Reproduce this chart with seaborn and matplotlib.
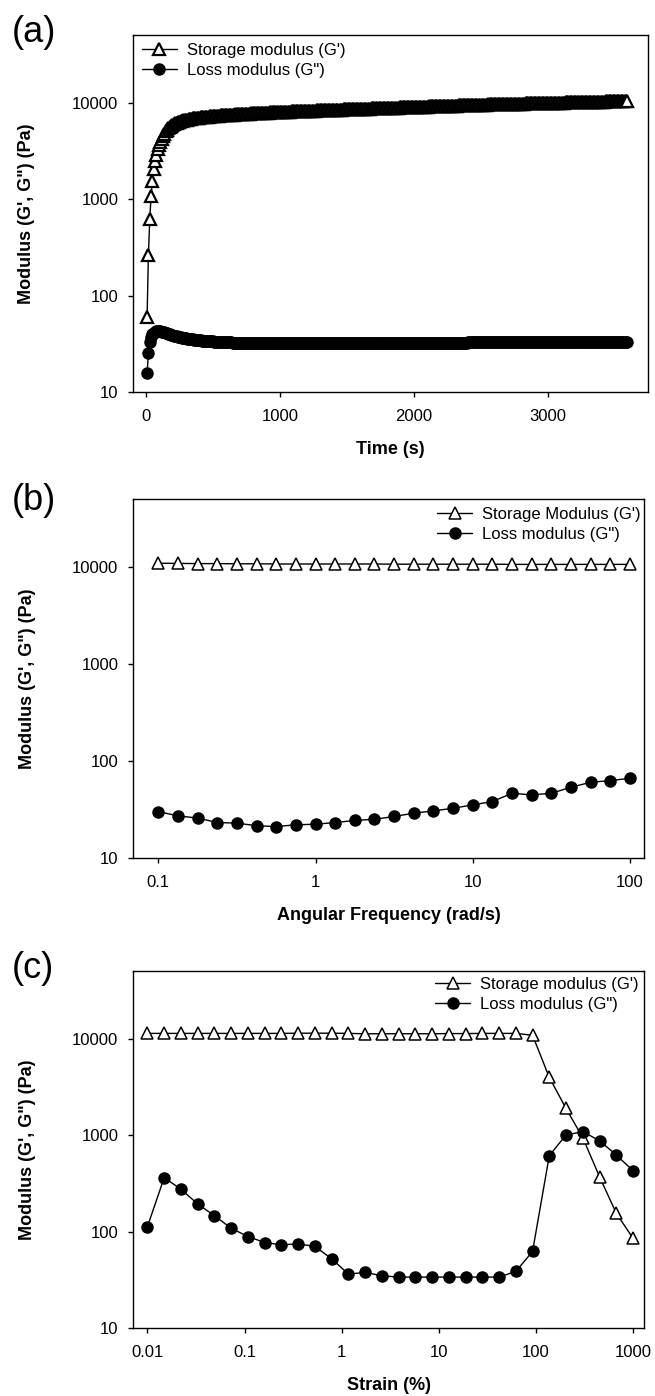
import matplotlib
matplotlib.use("Agg")
import matplotlib.pyplot as plt
import matplotlib.ticker as mticker
import seaborn as sns

sns.set_style("ticks")
plt.rcParams["font.family"] = ["Liberation Sans", "DejaVu Sans"]
plt.rcParams["text.color"] = "black"
plt.rcParams["axes.labelcolor"] = "black"
plt.rcParams["axes.linewidth"] = 1.0

# (a) time sweep, one reading every 10 s
time_s = [
    5, 15, 25, 35, 45, 55, 65, 75, 85, 95,
    105, 115, 125, 135, 145, 155, 165, 175, 185, 195,
    205, 215, 225, 235, 245, 255, 265, 275, 285, 295,
    305, 315, 325, 335, 345, 355, 365, 375, 385, 395,
    405, 415, 425, 435, 445, 455, 465, 475, 485, 495,
    505, 515, 525, 535, 545, 555, 565, 575, 585, 595,
    605, 615, 625, 635, 645, 655, 665, 675, 685, 695,
    705, 715, 725, 735, 745, 755, 765, 775, 785, 795,
    805, 815, 825, 835, 845, 855, 865, 875, 885, 895,
    905, 915, 925, 935, 945, 955, 965, 975, 985, 995,
    1005, 1015, 1025, 1035, 1045, 1055, 1065, 1075, 1085, 1095,
    1105, 1115, 1125, 1135, 1145, 1155, 1165, 1175, 1185, 1195,
    1205, 1215, 1225, 1235, 1245, 1255, 1265, 1275, 1285, 1295,
    1305, 1315, 1325, 1335, 1345, 1355, 1365, 1375, 1385, 1395,
    1405, 1415, 1425, 1435, 1445, 1455, 1465, 1475, 1485, 1495,
    1505, 1515, 1525, 1535, 1545, 1555, 1565, 1575, 1585, 1595,
    1605, 1615, 1625, 1635, 1645, 1655, 1665, 1675, 1685, 1695,
    1705, 1715, 1725, 1735, 1745, 1755, 1765, 1775, 1785, 1795,
    1805, 1815, 1825, 1835, 1845, 1855, 1865, 1875, 1885, 1895,
    1905, 1915, 1925, 1935, 1945, 1955, 1965, 1975, 1985, 1995,
    2005, 2015, 2025, 2035, 2045, 2055, 2065, 2075, 2085, 2095,
    2105, 2115, 2125, 2135, 2145, 2155, 2165, 2175, 2185, 2195,
    2205, 2215, 2225, 2235, 2245, 2255, 2265, 2275, 2285, 2295,
    2305, 2315, 2325, 2335, 2345, 2355, 2365, 2375, 2385, 2395,
    2405, 2415, 2425, 2435, 2445, 2455, 2465, 2475, 2485, 2495,
    2505, 2515, 2525, 2535, 2545, 2555, 2565, 2575, 2585, 2595,
    2605, 2615, 2625, 2635, 2645, 2655, 2665, 2675, 2685, 2695,
    2705, 2715, 2725, 2735, 2745, 2755, 2765, 2775, 2785, 2795,
    2805, 2815, 2825, 2835, 2845, 2855, 2865, 2875, 2885, 2895,
    2905, 2915, 2925, 2935, 2945, 2955, 2965, 2975, 2985, 2995,
    3005, 3015, 3025, 3035, 3045, 3055, 3065, 3075, 3085, 3095,
    3105, 3115, 3125, 3135, 3145, 3155, 3165, 3175, 3185, 3195,
    3205, 3215, 3225, 3235, 3245, 3255, 3265, 3275, 3285, 3295,
    3305, 3315, 3325, 3335, 3345, 3355, 3365, 3375, 3385, 3395,
    3405, 3415, 3425, 3435, 3445, 3455, 3465, 3475, 3485, 3495,
    3505, 3515, 3525, 3535, 3545, 3555, 3565, 3575, 3585, 3595,
]
storage_time = [
    60, 265, 620, 1080, 1550, 2050, 2500, 2900, 3300, 3650,
    3950, 4250, 4550, 4800, 5050, 5250, 5450, 5650, 5800, 5950,
    6050, 6150, 6250, 6320, 6390, 6450, 6510, 6570, 6620, 6670,
    6715, 6760, 6800, 6840, 6880, 6915, 6950, 6980, 7010, 7035,
    7060, 7085, 7110, 7140, 7165, 7190, 7210, 7230, 7250, 7270,
    7290, 7310, 7330, 7350, 7370, 7390, 7410, 7430, 7450, 7465,
    7480, 7500, 7515, 7530, 7550, 7565, 7580, 7595, 7610, 7625,
    7640, 7655, 7670, 7685, 7700, 7715, 7730, 7745, 7760, 7775,
    7790, 7800, 7815, 7830, 7840, 7855, 7870, 7880, 7895, 7910,
    7920, 7935, 7945, 7960, 7970, 7985, 7995, 8010, 8020, 8035,
    8045, 8055, 8070, 8080, 8090, 8105, 8115, 8125, 8140, 8150,
    8160, 8170, 8180, 8190, 8200, 8210, 8220, 8230, 8240, 8250,
    8260, 8270, 8280, 8290, 8300, 8310, 8320, 8330, 8340, 8350,
    8360, 8370, 8380, 8390, 8400, 8410, 8420, 8430, 8440, 8450,
    8460, 8470, 8480, 8490, 8500, 8510, 8520, 8530, 8540, 8550,
    8560, 8570, 8580, 8590, 8600, 8610, 8620, 8630, 8640, 8650,
    8660, 8670, 8680, 8690, 8700, 8710, 8720, 8730, 8740, 8750,
    8760, 8770, 8780, 8790, 8800, 8810, 8820, 8830, 8840, 8850,
    8860, 8870, 8880, 8890, 8900, 8910, 8920, 8930, 8940, 8950,
    8960, 8970, 8980, 8990, 9000, 9010, 9020, 9030, 9040, 9050,
    9060, 9070, 9080, 9090, 9100, 9110, 9120, 9130, 9140, 9150,
    9160, 9170, 9180, 9190, 9200, 9210, 9220, 9230, 9240, 9250,
    9260, 9270, 9280, 9290, 9300, 9310, 9320, 9330, 9340, 9350,
    9360, 9370, 9380, 9390, 9400, 9410, 9420, 9430, 9440, 9450,
    9460, 9470, 9480, 9490, 9500, 9510, 9520, 9530, 9540, 9550,
    9560, 9570, 9580, 9590, 9600, 9610, 9620, 9630, 9640, 9650,
    9660, 9670, 9675, 9685, 9690, 9700, 9710, 9715, 9725, 9730,
    9740, 9750, 9755, 9765, 9770, 9780, 9790, 9795, 9805, 9810,
    9820, 9830, 9835, 9845, 9850, 9860, 9870, 9875, 9885, 9890,
    9900, 9910, 9915, 9925, 9930, 9940, 9950, 9955, 9965, 9970,
    9980, 9990, 9995, 10005, 10010, 10020, 10030, 10035, 10045, 10050,
    10060, 10070, 10075, 10085, 10090, 10100, 10110, 10115, 10125, 10130,
    10140, 10150, 10155, 10165, 10170, 10180, 10190, 10195, 10205, 10210,
    10220, 10230, 10235, 10245, 10250, 10260, 10270, 10275, 10285, 10290,
    10300, 10310, 10315, 10325, 10330, 10340, 10350, 10355, 10365, 10370,
    10380, 10390, 10395, 10405, 10410, 10420, 10430, 10435, 10445, 10450,
]
loss_time = [
    15.6, 25.5, 33.0, 37.0, 39.5, 41.0, 42.0, 42.7, 43.0, 43.0,
    42.8, 42.4, 42.0, 41.5, 41.0, 40.5, 40.0, 39.5, 39.0, 38.6,
    38.3, 38.0, 37.7, 37.4, 37.1, 36.9, 36.6, 36.4, 36.2, 36.0,
    35.8, 35.6, 35.4, 35.2, 35.1, 34.9, 34.8, 34.6, 34.5, 34.4,
    34.3, 34.2, 34.1, 34.0, 33.9, 33.8, 33.7, 33.7, 33.6, 33.5,
    33.4, 33.4, 33.3, 33.2, 33.2, 33.1, 33.1, 33.0, 32.9, 32.9,
    32.8, 32.8, 32.7, 32.7, 32.6, 32.6, 32.6, 32.5, 32.5, 32.5,
    32.4, 32.4, 32.4, 32.3, 32.3, 32.3, 32.2, 32.2, 32.2, 32.2,
    32.1, 32.1, 32.1, 32.1, 32.1, 32.1, 32.0, 32.0, 32.0, 32.0,
    32.0, 32.0, 32.0, 32.0, 32.0, 31.9, 31.9, 31.9, 31.9, 31.9,
    31.9, 31.9, 31.9, 31.9, 31.9, 31.9, 31.9, 31.9, 31.9, 31.9,
    31.9, 31.9, 31.9, 31.9, 31.9, 31.9, 31.9, 31.9, 31.9, 31.9,
    31.9, 31.9, 31.9, 31.9, 31.9, 31.9, 31.9, 31.9, 31.9, 31.9,
    31.9, 31.9, 31.9, 31.9, 31.9, 31.9, 31.9, 31.9, 31.9, 31.9,
    31.9, 31.9, 31.9, 31.9, 31.9, 31.9, 31.9, 31.9, 31.9, 31.9,
    32.0, 32.0, 32.0, 32.0, 32.0, 32.0, 32.0, 32.0, 32.0, 32.0,
    32.0, 32.0, 32.0, 32.0, 32.0, 32.0, 32.0, 32.0, 32.0, 32.0,
    32.1, 32.1, 32.1, 32.1, 32.1, 32.1, 32.1, 32.1, 32.1, 32.1,
    32.1, 32.1, 32.1, 32.1, 32.1, 32.1, 32.1, 32.1, 32.1, 32.1,
    32.2, 32.2, 32.2, 32.2, 32.2, 32.2, 32.2, 32.2, 32.2, 32.2,
    32.3, 32.3, 32.3, 32.3, 32.3, 32.3, 32.3, 32.3, 32.3, 32.3,
    32.4, 32.4, 32.4, 32.4, 32.4, 32.4, 32.4, 32.4, 32.4, 32.4,
    32.5, 32.5, 32.5, 32.5, 32.5, 32.5, 32.5, 32.5, 32.5, 32.5,
    32.6, 32.6, 32.6, 32.6, 32.6, 32.6, 32.6, 32.6, 32.6, 32.6,
    32.7, 32.7, 32.7, 32.7, 32.7, 32.7, 32.7, 32.7, 32.7, 32.7,
    32.8, 32.8, 32.8, 32.8, 32.8, 32.8, 32.8, 32.8, 32.8, 32.8,
    32.9, 32.9, 32.9, 32.9, 32.9, 32.9, 32.9, 32.9, 32.9, 32.9,
    33.0, 33.0, 33.0, 33.0, 33.0, 33.0, 33.0, 33.0, 33.0, 33.0,
    33.0, 33.0, 33.0, 33.0, 33.0, 33.0, 33.0, 33.0, 33.0, 33.0,
    33.1, 33.1, 33.1, 33.1, 33.1, 33.1, 33.1, 33.1, 33.1, 33.1,
    33.1, 33.1, 33.1, 33.1, 33.1, 33.1, 33.1, 33.1, 33.1, 33.1,
    33.2, 33.2, 33.2, 33.2, 33.2, 33.2, 33.2, 33.2, 33.2, 33.2,
    33.2, 33.2, 33.2, 33.2, 33.2, 33.2, 33.2, 33.2, 33.2, 33.2,
    33.3, 33.3, 33.3, 33.3, 33.3, 33.3, 33.3, 33.3, 33.3, 33.3,
    33.3, 33.3, 33.3, 33.3, 33.3, 33.3, 33.3, 33.3, 33.3, 33.3,
    33.4, 33.4, 33.4, 33.4, 33.4, 33.4, 33.4, 33.4, 33.4, 33.4,
]

# (b) frequency sweep
freq = [0.1, 0.133, 0.178, 0.237, 0.316, 0.422, 0.562, 0.75, 1.0, 1.33,
        1.78, 2.37, 3.16, 4.22, 5.62, 7.5, 10, 13.3, 17.8, 23.7,
        31.6, 42.2, 56.2, 75, 100]
storage_freq = [11000, 10950, 10900, 10900, 10850, 10850, 10800, 10800, 10800, 10800,
                10800, 10800, 10750, 10750, 10750, 10750, 10750, 10750, 10700, 10700,
                10700, 10700, 10700, 10700, 10700]
loss_freq = [30.1, 27.2, 25.8, 23.2, 22.9, 21.5, 21.1, 22.0, 22.3, 23.2,
             24.4, 25.1, 26.8, 29.0, 30.6, 32.6, 35.3, 38.2, 46.5, 44.8,
             46.5, 53.7, 60.4, 62.9, 66.4]

# (c) strain sweep
strain = [0.01, 0.01487, 0.02212, 0.0329, 0.0489, 0.0728, 0.1083, 0.161, 0.2395, 0.356,
          0.530, 0.788, 1.172, 1.743, 2.592, 3.86, 5.74, 8.53, 12.69, 18.87,
          28.1, 41.8, 62.1, 92.4, 137.4, 204, 304, 452, 672, 1000]
storage_strain = [11300, 11300, 11300, 11300, 11300, 11300, 11300, 11300, 11300, 11350,
                  11350, 11350, 11300, 11200, 11200, 11200, 11200, 11200, 11250, 11250,
                  11300, 11300, 11300, 10800, 3950, 1890, 937, 370, 155, 85]
loss_strain = [112.6, 362, 274, 193, 146, 108, 88.7, 76.9, 72.8, 74.5,
               70, 52.2, 36.2, 37.7, 34.8, 33.7, 33.7, 33.7, 33.7, 33.7,
               33.7, 33.7, 38.6, 62.1, 611, 1000, 1083, 873, 621, 428]

fig = plt.figure(figsize=(6.55, 13.96), dpi=100)

panels = [
    dict(pos=[0.2031, 0.7192, 0.7863, 0.2554], x=time_s, gp=storage_time, gpp=loss_time,
         xlabel="Time (s)", logx=False, xlim=(-100, 3750), xticks=[0, 1000, 2000, 3000],
         gp_label="Storage modulus (G')", loc="upper left", anchor=(0.017, 0.98),
         tag="(a)", tag_y=33, mew=1.6),
    dict(pos=[0.2031, 0.3854, 0.7802, 0.2568], x=freq, gp=storage_freq, gpp=loss_freq,
         xlabel="Angular Frequency (rad/s)", logx=True, xlim=(0.069, 123), xticks=[0.1, 1, 10, 100],
         gp_label="Storage Modulus (G')", loc="upper right", anchor=(0.994, 0.98),
         tag="(b)", tag_y=501, mew=1.1),
    dict(pos=[0.2031, 0.0487, 0.7802, 0.2557], x=strain, gp=storage_strain, gpp=loss_strain,
         xlabel="Strain (%)", logx=True, xlim=(0.0071, 1300), xticks=[0.01, 0.1, 1, 10, 100, 1000],
         gp_label="Storage modulus (G')", loc="upper right", anchor=(0.99, 0.983),
         tag="(c)", tag_y=969, mew=1.1),
]

fmt = mticker.FuncFormatter(lambda v, p: f"{v:g}")

for p in panels:
    ax = fig.add_axes(p["pos"])
    sns.lineplot(x=p["x"], y=p["gp"], ax=ax, color="black", linewidth=1.0,
                 marker="^", markersize=8.5, markerfacecolor="white",
                 markeredgecolor="black", markeredgewidth=p["mew"], label=p["gp_label"])
    sns.lineplot(x=p["x"], y=p["gpp"], ax=ax, color="black", linewidth=1.0,
                 marker="o", markersize=8, markerfacecolor="black",
                 markeredgecolor="black", markeredgewidth=1.0, label='Loss modulus (G")')

    ax.set_yscale("log")
    ax.set_ylim(10, 50000)
    ax.yaxis.set_major_locator(mticker.FixedLocator([10, 100, 1000, 10000]))
    ax.yaxis.set_minor_locator(mticker.NullLocator())
    ax.yaxis.set_major_formatter(fmt)

    if p["logx"]:
        ax.set_xscale("log")
        ax.xaxis.set_minor_locator(mticker.NullLocator())
    ax.xaxis.set_major_locator(mticker.FixedLocator(p["xticks"]))
    ax.xaxis.set_major_formatter(fmt)
    ax.set_xlim(*p["xlim"])

    ax.tick_params(axis="both", direction="out", length=3.6, width=1.0, pad=7,
                   labelsize=12, color="black", labelcolor="black")
    ax.tick_params(axis="x", pad=8.5)
    for s in ax.spines.values():
        s.set_color("black")
        s.set_linewidth(1.0)

    ax.set_xlabel(p["xlabel"], fontsize=13, fontweight="bold", va="center")
    ax.xaxis.set_label_coords(0.5, -0.16)
    ax.set_ylabel('Modulus (G\', G") (Pa)', fontsize=13, fontweight="bold", va="center")
    ax.yaxis.set_label_coords(-0.206, 0.5)

    ax.legend(loc=p["loc"], bbox_to_anchor=p["anchor"], frameon=False, fontsize=12,
              handlelength=2.1, handletextpad=0.6, labelspacing=0.3,
              borderpad=0, borderaxespad=0)

    fig.text(12 / 655, 1 - p["tag_y"] / 1396, p["tag"], fontsize=26, ha="left", va="center")

fig.savefig("out.png", dpi=100)
plt.close(fig)
